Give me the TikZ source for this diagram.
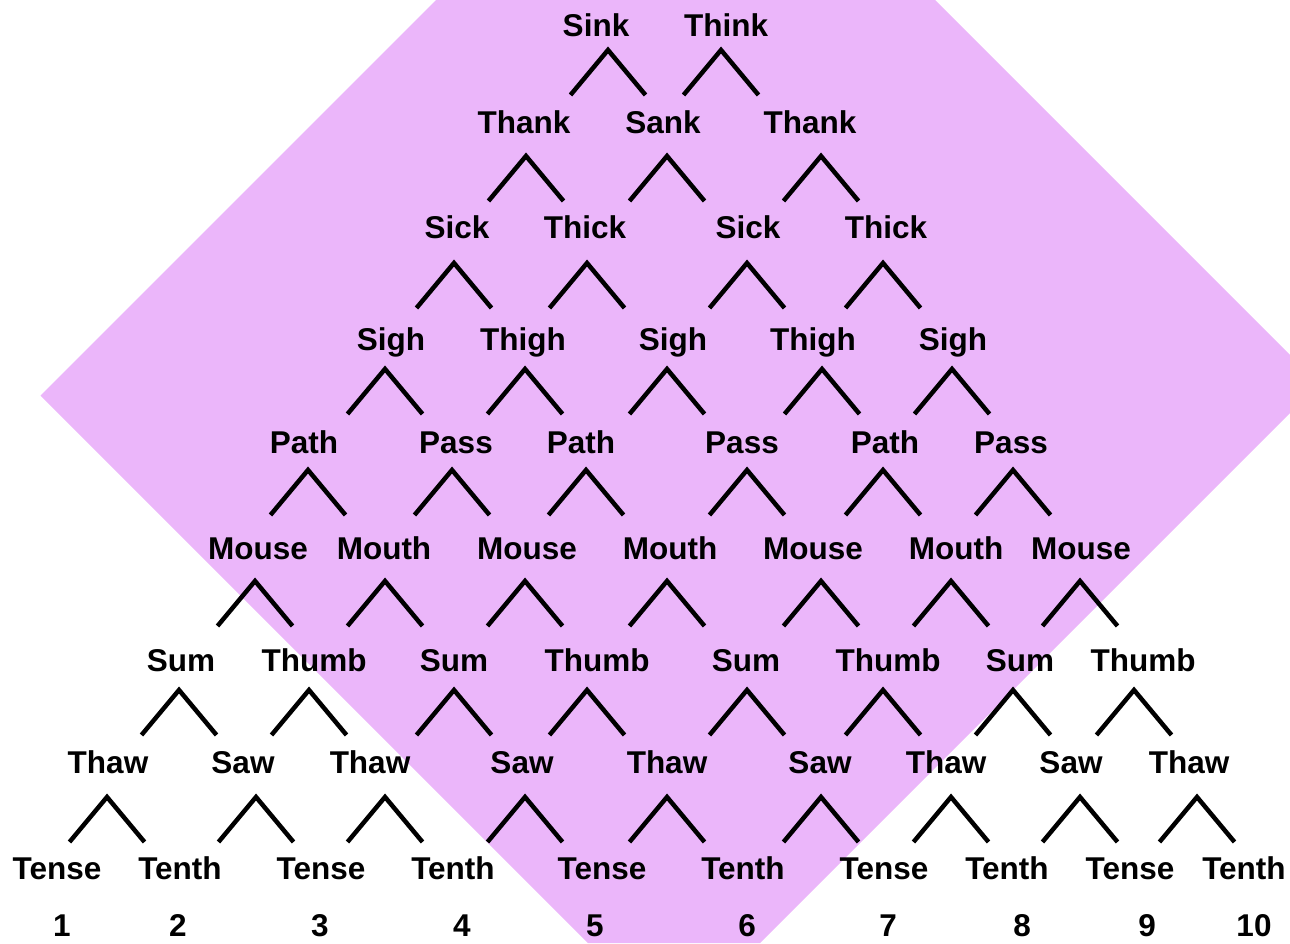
\documentclass[tikz,border=0pt]{standalone}
\usepackage{fontspec}
\setmainfont{Liberation Sans}
\definecolor{purp}{RGB}{235,182,250}
\tikzset{
  word/.style={font=\fontsize{31.5}{34}\selectfont\bfseries, inner sep=0pt, anchor=base},
  wedgeline/.style={line width=4.5pt, black, line join=miter},
  wedge/.pic={\draw[wedgeline] (-37.5,45) -- (0,0) -- (37.5,45);}
}
\begin{document}
\begin{tikzpicture}[x=1pt,y=-1pt]
\useasboundingbox (0,0) rectangle (1290,943);
\fill[purp] (436,0) -- (935,0) -- (1290,355) -- (1290,413) -- (760,943) -- (588,943) -- (40.5,395.5) -- cycle;
% row 1
\foreach \x/\w [count=\i] in {596/Sink,726/Think}
  \node[word] (ra\i) at (\x,36) {\w};
% row 2
\foreach \x/\w [count=\i] in {524/Thank,663/Sank,810/Thank}
  \node[word] (rb\i) at (\x,133) {\w};
% row 3
\foreach \x/\w [count=\i] in {457/Sick,585/Thick,748/Sick,886/Thick}
  \node[word] (rc\i) at (\x,238) {\w};
% row 4
\foreach \x/\w [count=\i] in {391/Sigh,523/Thigh,673/Sigh,813/Thigh,953/Sigh}
  \node[word] (rd\i) at (\x,350) {\w};
% row 5
\foreach \x/\w [count=\i] in {304/Path,456/Pass,581/Path,742/Pass,885/Path,1011/Pass}
  \node[word] (re\i) at (\x,453) {\w};
% row 6
\foreach \x/\w [count=\i] in {258/Mouse,384/Mouth,527/Mouse,670/Mouth,813/Mouse,956/Mouth,1081/Mouse}
  \node[word] (rf\i) at (\x,559) {\w};
% row 7
\foreach \x/\w [count=\i] in {181/Sum,314/Thumb,454/Sum,597/Thumb,746/Sum,888/Thumb,1020/Sum,1143/Thumb}
  \node[word] (rg\i) at (\x,671) {\w};
% row 8
\foreach \x/\w [count=\i] in {108/Thaw,243/Saw,370/Thaw,522/Saw,667/Thaw,820/Saw,946/Thaw,1071/Saw,1189/Thaw}
  \node[word] (rh\i) at (\x,773) {\w};
% row 9
\foreach \x/\w [count=\i] in {57/Tense,180/Tenth,321/Tense,453/Tenth,602/Tense,743/Tenth,884/Tense,1007/Tenth,1130/Tense,1244/Tenth}
  \node[word] (ri\i) at (\x,879) {\w};
% numbers
\foreach \x/\w [count=\i] in {62/1,178/2,320/3,462/4,595/5,747/6,888/7,1022/8,1147/9,1254/10}
  \node[word] (n\i) at (\x,936) {\w};
% wedges
\foreach \x in {608,721} \pic at (\x,50) {wedge};
\foreach \x in {526,667,821} \pic at (\x,156) {wedge};
\foreach \x in {454,587,747,883} \pic at (\x,263) {wedge};
\foreach \x in {385,525,667,822,952} \pic at (\x,369) {wedge};
\foreach \x in {308,452,586,747,883,1013} \pic at (\x,470) {wedge};
\foreach \x in {255,385,525,667,821,951,1080} \pic at (\x,581) {wedge};
\foreach \x in {179,309,454,587,747,883,1013,1134} \pic at (\x,690) {wedge};
\foreach \x in {107,256,385,525,667,821,951,1080,1197} \pic at (\x,797) {wedge};
\end{tikzpicture}
\end{document}
